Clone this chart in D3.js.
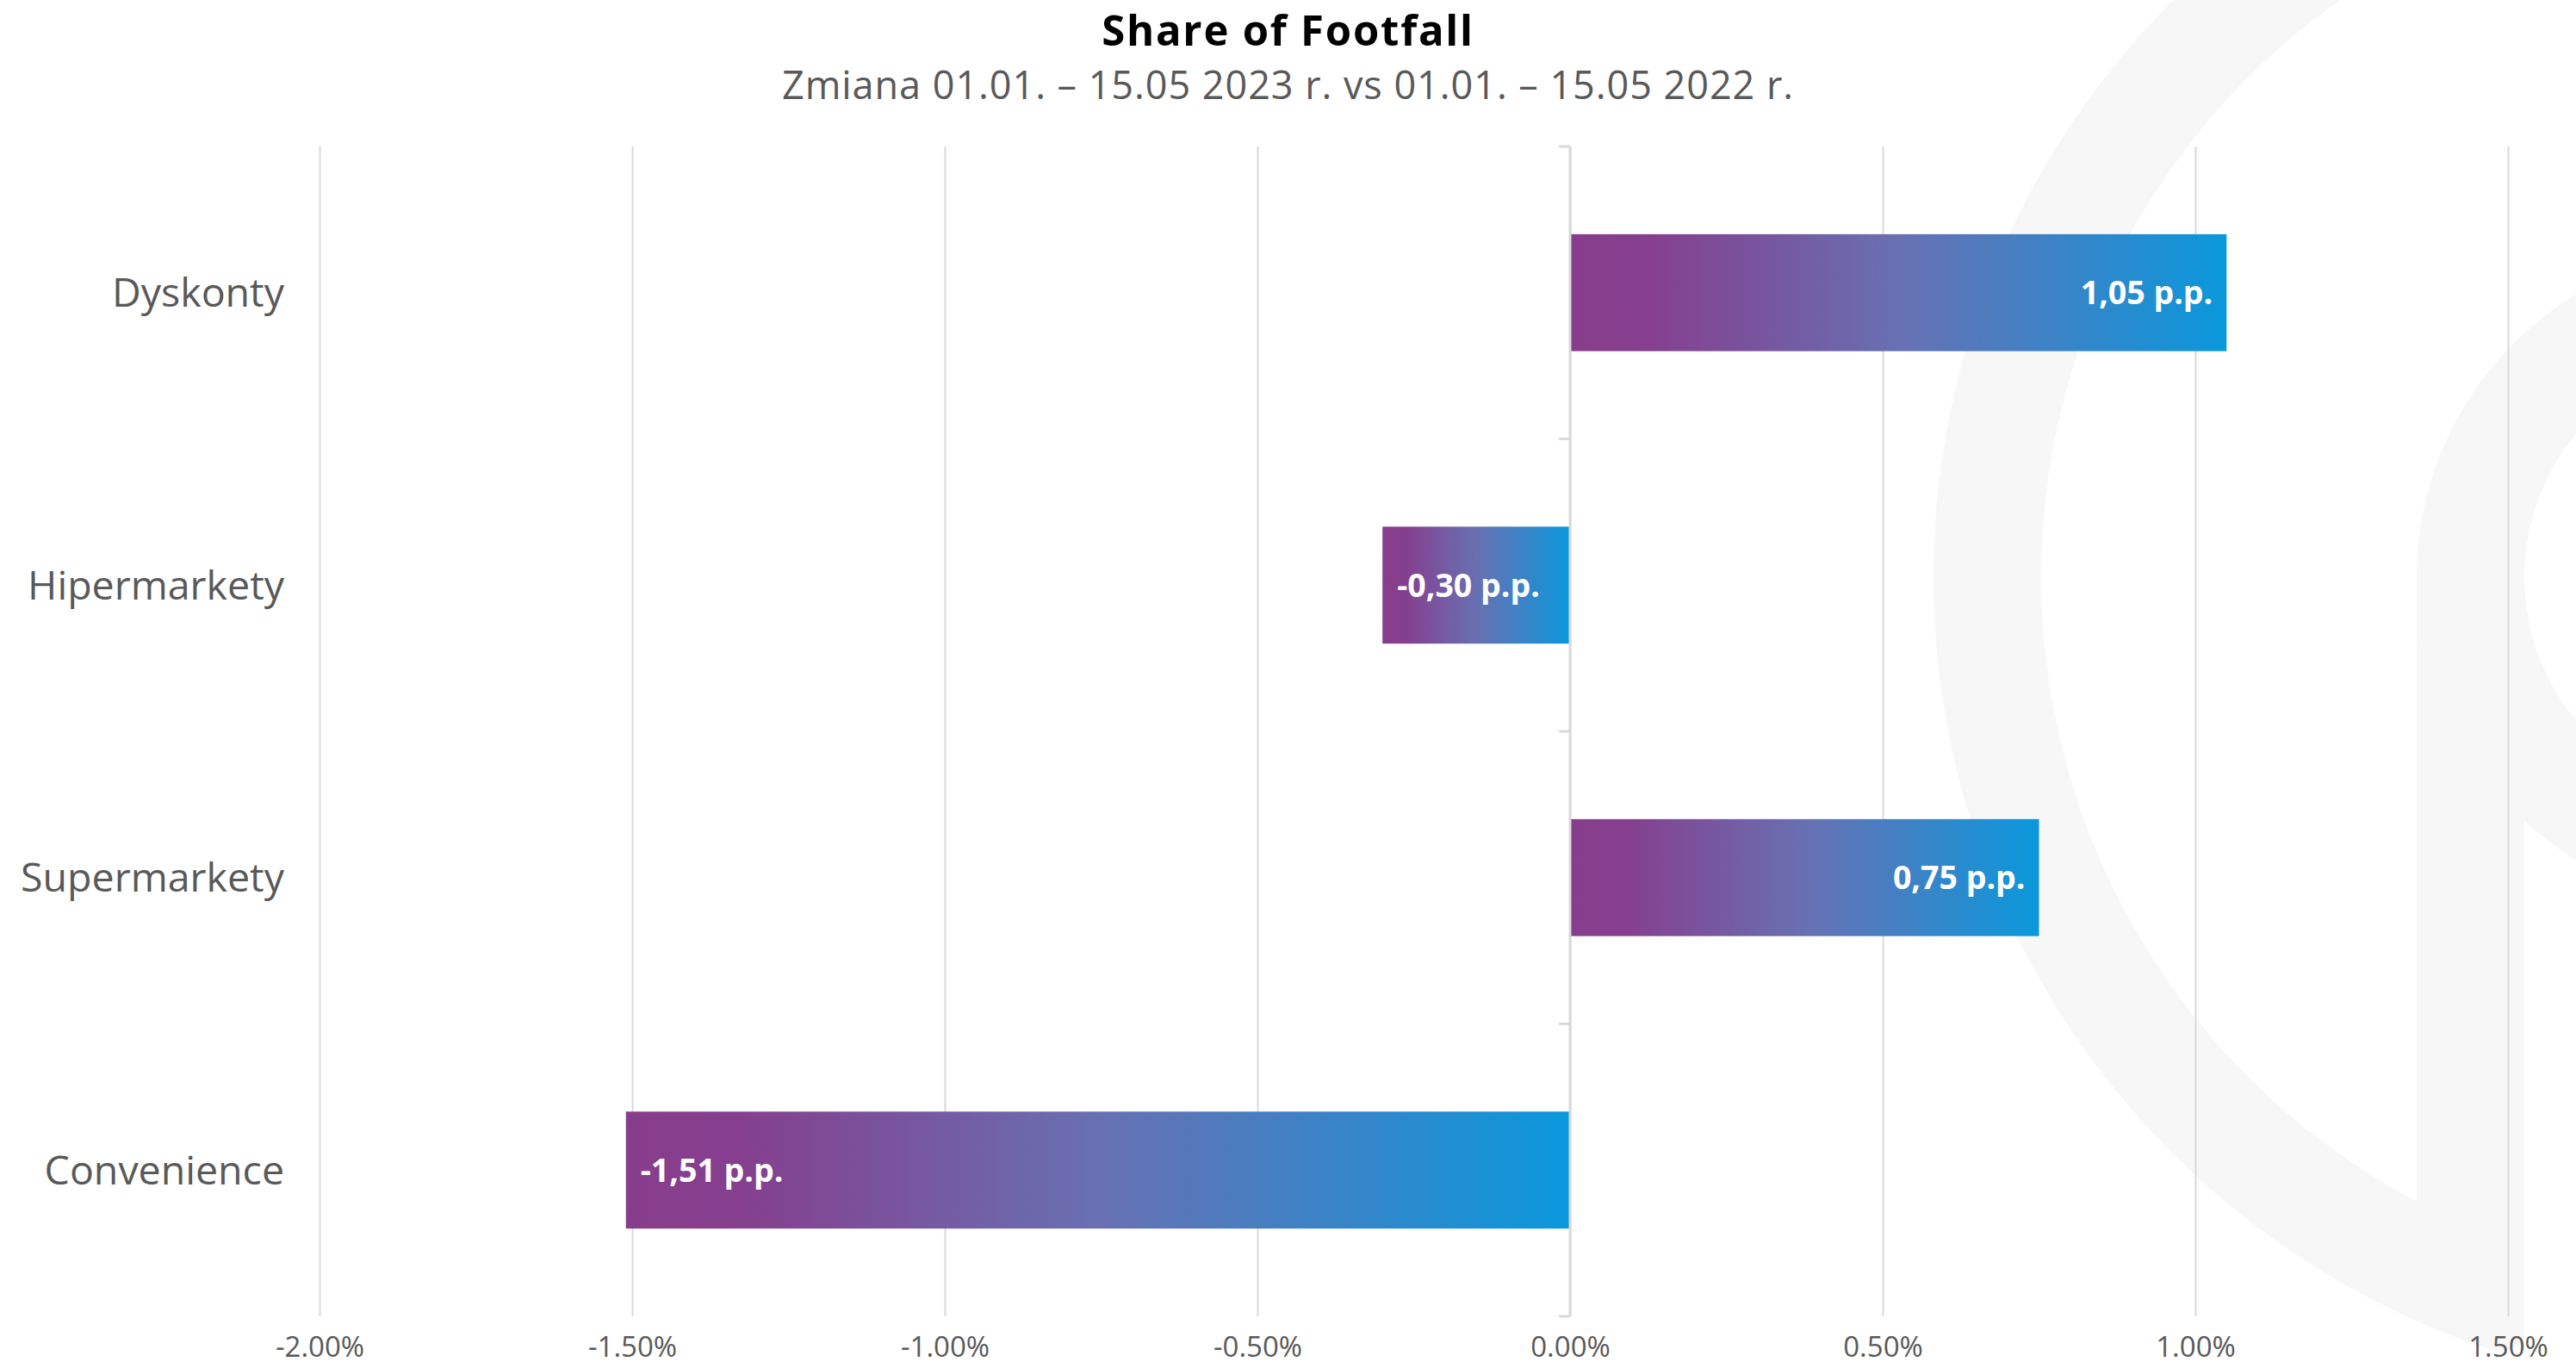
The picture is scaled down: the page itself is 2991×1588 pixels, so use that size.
<!DOCTYPE html>
<html lang="pl">
<head>
<meta charset="utf-8">
<title>Share of Footfall</title>
<script src="https://cdn.jsdelivr.net/npm/d3@7/dist/d3.min.js"></script>
<style>
  html, body { margin: 0; padding: 0; background: #ffffff; }
  svg { display: block; }
  text { font-family: "Open Sans", "Noto Sans", sans-serif; }
</style>
</head>
<body>
<svg id="chart" width="2991" height="1588"></svg>
<script>
// Change in share of footfall by store format, in percentage points
const categories = ["Dyskonty", "Hipermarkety", "Supermarkety", "Convenience"];
const values = [1.05, -0.30, 0.75, -1.51];
const xTicks = [-2.0, -1.5, -1.0, -0.5, 0.0, 0.5, 1.0, 1.5];
const titleText = "Share of Footfall";
const subtitleText = "Zmiana 01.01. \u2013 15.05 2023 r. vs 01.01. \u2013 15.05 2022 r.";

const W = 2991, H = 1588;
const margin = { top: 170, bottom: 58, left: 371, right: 79 };

const svg = d3.select("#chart");

// Polish-style number formats: comma decimal for value labels, plain hyphen minus
const plLocale = d3.formatLocale({ decimal: ",", thousands: " ", grouping: [3], currency: ["", ""], minus: "-" });
const enLocale = d3.formatLocale({ decimal: ".", thousands: ",", grouping: [3], currency: ["", ""], minus: "-" });
const fmtValue = v => plLocale.format(".2f")(v) + " p.p.";
const fmtTick = v => enLocale.format(".2f")(v) + "%";

const x = d3.scaleLinear()
  .domain([d3.min(xTicks), d3.max(xTicks)])
  .range([margin.left, W - margin.right]);

const y = d3.scaleBand()
  .domain(categories)
  .range([margin.top, H - margin.bottom - 2])
  .padding(0);

// ---- faint background logo mark ----
const logo = svg.append("g").attr("transform", "translate(3190,670)").attr("fill", "#f7f7f7");
const defs = svg.append("defs");
defs.append("clipPath").attr("id", "logoClip")
  .append("rect").attr("x", -2000).attr("y", -1200).attr("width", 2000 - 259).attr("height", 2600);

logo.append("path")
  .attr("clip-path", "url(#logoClip)")
  .attr("d", d3.arc()
    .innerRadius(820).outerRadius(945)
    .startAngle(Math.PI + Math.asin(250 / 945))
    .endAngle(2 * Math.PI + 0.3)
    .cornerRadius(55)());
logo.append("rect").attr("x", -384).attr("y", 0).attr("width", 125).attr("height", 790);
logo.append("path")
  .attr("d", d3.arc().innerRadius(259).outerRadius(384).startAngle(0).endAngle(2 * Math.PI)());

// ---- bar gradient ----
const grad = defs.append("linearGradient")
  .attr("id", "barGrad").attr("x1", 0).attr("y1", 0).attr("x2", 1).attr("y2", 0);
[[0, "#873d8c"], [0.12, "#853f8e"], [0.5, "#6870b2"], [1, "#0a98dc"]].forEach(([o, c]) =>
  grad.append("stop").attr("offset", o).attr("stop-color", c));

// ---- vertical gridlines + bottom tick labels ----
const xAxis = d3.axisBottom(x)
  .tickValues(xTicks)
  .tickFormat(fmtTick)
  .tickSize(-(y.range()[1] - y.range()[0]))
  .tickPadding(24);

const gx = svg.append("g")
  .attr("transform", `translate(0,${y.range()[1]})`)
  .call(xAxis);
gx.select(".domain").remove();
gx.selectAll(".tick line").attr("stroke", "#d9d9d9").attr("stroke-width", 2);
gx.selectAll(".tick text")
  .attr("fill", "#595959")
  .attr("font-size", 33);

// ---- bars ----
const barH = y.bandwidth() * 0.4;
const bars = svg.append("g");
categories.forEach((c, i) => {
  const v = values[i];
  const x0 = x(Math.min(0, v)), x1 = x(Math.max(0, v));
  const by = y(c) + (y.bandwidth() - barH) / 2;
  bars.append("rect")
    .attr("x", x0).attr("y", by)
    .attr("width", x1 - x0).attr("height", barH)
    .attr("fill", "url(#barGrad)");
  bars.append("text")
    .attr("x", v >= 0 ? x1 - 16 : x0 + 17)
    .attr("y", y(c) + y.bandwidth() / 2)
    .attr("dy", "0.36em")
    .attr("text-anchor", v >= 0 ? "end" : "start")
    .attr("fill", "#ffffff")
    .attr("font-weight", 700)
    .attr("font-size", 37.5)
    .text(fmtValue(v));
});

// ---- category axis at zero ----
const gy = svg.append("g").attr("stroke", "#d9d9d9").attr("stroke-width", 3);
gy.append("line")
  .attr("x1", x(0)).attr("x2", x(0))
  .attr("y1", y.range()[0]).attr("y2", y.range()[1]);
const boundaries = categories.map(c => y(c)).concat([y.range()[1]]);
gy.selectAll("line.tick").data(boundaries).join("line")
  .attr("class", "tick")
  .attr("x1", x(0) - 13).attr("x2", x(0))
  .attr("y1", d => d).attr("y2", d => d);

svg.append("g").selectAll("text").data(categories).join("text")
  .attr("x", 330)
  .attr("y", d => y(d) + y.bandwidth() / 2)
  .attr("dy", "0.36em")
  .attr("text-anchor", "end")
  .attr("fill", "#595959")
  .attr("font-size", 46.5)
  .text(d => d);

// ---- titles ----
svg.append("text")
  .attr("x", W / 2).attr("y", 53)
  .attr("text-anchor", "middle")
  .attr("font-weight", 700)
  .attr("font-size", 49)
  .attr("letter-spacing", 1.8)
  .attr("fill", "#000000")
  .text(titleText);
svg.append("text")
  .attr("x", W / 2).attr("y", 115)
  .attr("text-anchor", "middle")
  .attr("font-size", 45)
  .attr("letter-spacing", 0.95)
  .attr("fill", "#595959")
  .text(subtitleText);
</script>
</body>
</html>
